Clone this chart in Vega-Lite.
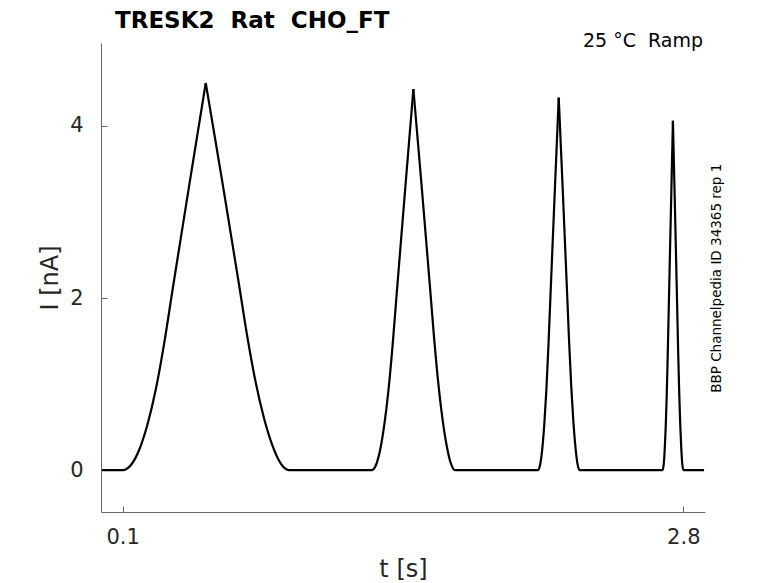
{
  "$schema": "https://vega.github.io/schema/vega-lite/v6.json",
  "width": 604,
  "height": 469,
  "autosize": "none",
  "padding": {"left": 101, "top": 43, "right": 73, "bottom": 71},
  "background": "white",
  "title": {
    "text": "TRESK2\u00a0 Rat\u00a0 CHO_FT",
    "anchor": "start",
    "frame": "group",
    "dx": 14,
    "offset": -19,
    "baseline": "alphabetic",
    "font": "DejaVu Sans",
    "fontSize": 23,
    "fontWeight": "bold",
    "color": "black"
  },
  "config": {
    "view": {"stroke": null},
    "axis": {
      "grid": false,
      "domainColor": "#666666",
      "tickColor": "#666666",
      "tickSize": -6,
      "labelFont": "DejaVu Sans",
      "labelFontSize": 21,
      "labelColor": "#262626",
      "titleFont": "DejaVu Sans",
      "titleFontSize": 24,
      "titleFontWeight": "normal",
      "titleColor": "#262626"
    }
  },
  "datasets": {
    "trace": [
      {"seg": 1, "t": 0.0, "i": 0},
      {"seg": 1, "t": 0.05, "i": 0},
      {"seg": 1, "t": 0.1, "i": 0},
      {"seg": 1, "t": 0.14, "i": 0.059},
      {"seg": 1, "t": 0.18, "i": 0.239},
      {"seg": 1, "t": 0.22, "i": 0.536},
      {"seg": 1, "t": 0.26, "i": 0.945},
      {"seg": 1, "t": 0.30, "i": 1.476},
      {"seg": 1, "t": 0.34, "i": 2.093},
      {"seg": 1, "t": 0.38, "i": 2.7},
      {"seg": 1, "t": 0.42, "i": 3.303},
      {"seg": 1, "t": 0.46, "i": 3.902},
      {"seg": 1, "t": 0.50, "i": 4.5},
      {"seg": 2, "t": 0.50, "i": 4.5},
      {"seg": 2, "t": 0.54, "i": 3.924},
      {"seg": 2, "t": 0.58, "i": 3.348},
      {"seg": 2, "t": 0.62, "i": 2.754},
      {"seg": 2, "t": 0.66, "i": 2.16},
      {"seg": 2, "t": 0.70, "i": 1.553},
      {"seg": 2, "t": 0.74, "i": 1.026},
      {"seg": 2, "t": 0.78, "i": 0.608},
      {"seg": 2, "t": 0.82, "i": 0.293},
      {"seg": 2, "t": 0.86, "i": 0.081},
      {"seg": 2, "t": 0.9, "i": 0},
      {"seg": 2, "t": 1.1, "i": 0},
      {"seg": 2, "t": 1.3, "i": 0},
      {"seg": 2, "t": 1.32, "i": 0.058},
      {"seg": 2, "t": 1.34, "i": 0.235},
      {"seg": 2, "t": 1.36, "i": 0.527},
      {"seg": 2, "t": 1.38, "i": 0.93},
      {"seg": 2, "t": 1.40, "i": 1.453},
      {"seg": 2, "t": 1.42, "i": 2.06},
      {"seg": 2, "t": 1.44, "i": 2.658},
      {"seg": 2, "t": 1.46, "i": 3.252},
      {"seg": 2, "t": 1.48, "i": 3.841},
      {"seg": 2, "t": 1.50, "i": 4.43},
      {"seg": 3, "t": 1.50, "i": 4.43},
      {"seg": 3, "t": 1.52, "i": 3.863},
      {"seg": 3, "t": 1.54, "i": 3.296},
      {"seg": 3, "t": 1.56, "i": 2.711},
      {"seg": 3, "t": 1.58, "i": 2.126},
      {"seg": 3, "t": 1.60, "i": 1.528},
      {"seg": 3, "t": 1.62, "i": 1.01},
      {"seg": 3, "t": 1.64, "i": 0.598},
      {"seg": 3, "t": 1.66, "i": 0.288},
      {"seg": 3, "t": 1.68, "i": 0.08},
      {"seg": 3, "t": 1.70, "i": 0},
      {"seg": 3, "t": 1.9, "i": 0},
      {"seg": 3, "t": 2.1, "i": 0},
      {"seg": 3, "t": 2.11, "i": 0.056},
      {"seg": 3, "t": 2.12, "i": 0.229},
      {"seg": 3, "t": 2.13, "i": 0.515},
      {"seg": 3, "t": 2.14, "i": 0.909},
      {"seg": 3, "t": 2.15, "i": 1.42},
      {"seg": 3, "t": 2.16, "i": 2.013},
      {"seg": 3, "t": 2.17, "i": 2.598},
      {"seg": 3, "t": 2.18, "i": 3.178},
      {"seg": 3, "t": 2.19, "i": 3.754},
      {"seg": 3, "t": 2.20, "i": 4.33},
      {"seg": 4, "t": 2.20, "i": 4.33},
      {"seg": 4, "t": 2.21, "i": 3.776},
      {"seg": 4, "t": 2.22, "i": 3.222},
      {"seg": 4, "t": 2.23, "i": 2.65},
      {"seg": 4, "t": 2.24, "i": 2.078},
      {"seg": 4, "t": 2.25, "i": 1.494},
      {"seg": 4, "t": 2.26, "i": 0.987},
      {"seg": 4, "t": 2.27, "i": 0.585},
      {"seg": 4, "t": 2.28, "i": 0.281},
      {"seg": 4, "t": 2.29, "i": 0.078},
      {"seg": 4, "t": 2.30, "i": 0},
      {"seg": 4, "t": 2.5, "i": 0},
      {"seg": 4, "t": 2.7, "i": 0},
      {"seg": 4, "t": 2.705, "i": 0.053},
      {"seg": 4, "t": 2.71, "i": 0.215},
      {"seg": 4, "t": 2.715, "i": 0.483},
      {"seg": 4, "t": 2.72, "i": 0.853},
      {"seg": 4, "t": 2.725, "i": 1.332},
      {"seg": 4, "t": 2.73, "i": 1.888},
      {"seg": 4, "t": 2.735, "i": 2.436},
      {"seg": 4, "t": 2.74, "i": 2.98},
      {"seg": 4, "t": 2.745, "i": 3.52},
      {"seg": 4, "t": 2.75, "i": 4.06},
      {"seg": 5, "t": 2.75, "i": 4.06},
      {"seg": 5, "t": 2.755, "i": 3.54},
      {"seg": 5, "t": 2.76, "i": 3.021},
      {"seg": 5, "t": 2.765, "i": 2.485},
      {"seg": 5, "t": 2.77, "i": 1.949},
      {"seg": 5, "t": 2.775, "i": 1.401},
      {"seg": 5, "t": 2.78, "i": 0.926},
      {"seg": 5, "t": 2.785, "i": 0.548},
      {"seg": 5, "t": 2.79, "i": 0.264},
      {"seg": 5, "t": 2.795, "i": 0.073},
      {"seg": 5, "t": 2.8, "i": 0},
      {"seg": 5, "t": 2.85, "i": 0},
      {"seg": 5, "t": 2.9, "i": 0}
    ],
    "notes": [
      {"label": "25 °C\u00a0 Ramp", "t": 2.895, "i": 4.92, "kind": "cond"},
      {"label": "BBP Channelpedia ID 34365 rep 1", "t": 2.963, "i": 2.23, "kind": "id"}
    ]
  },
  "layer": [
    {
      "data": {"name": "trace"},
      "mark": {"type": "line", "color": "black", "strokeWidth": 2.2, "interpolate": "monotone", "clip": true},
      "encoding": {
        "x": {
          "field": "t",
          "type": "quantitative",
          "title": "t [s]",
          "scale": {"domain": [-0.0045, 2.9045], "nice": false, "zero": false},
          "axis": {"values": [0.1, 2.8], "format": ".1f", "labelPadding": 20, "titlePadding": 10}
        },
        "y": {
          "field": "i",
          "type": "quantitative",
          "title": "I [nA]",
          "scale": {"domain": [-0.488, 4.965], "nice": false, "zero": false},
          "axis": {"values": [0, 2, 4], "format": "d", "labelPadding": 24, "titlePadding": 7}
        },
        "detail": {"field": "seg", "type": "nominal"},
        "order": {"field": "t", "type": "quantitative"}
      }
    },
    {
      "data": {"name": "notes"},
      "transform": [{"filter": "datum.kind == 'cond'"}],
      "mark": {"type": "text", "align": "right", "baseline": "alphabetic", "font": "DejaVu Sans", "fontSize": 19, "color": "black"},
      "encoding": {
        "x": {"field": "t", "type": "quantitative"},
        "y": {"field": "i", "type": "quantitative"},
        "text": {"field": "label", "type": "nominal"}
      }
    },
    {
      "data": {"name": "notes"},
      "transform": [{"filter": "datum.kind == 'id'"}],
      "mark": {"type": "text", "align": "center", "baseline": "middle", "angle": 270, "font": "DejaVu Sans", "fontSize": 13.5, "color": "black"},
      "encoding": {
        "x": {"field": "t", "type": "quantitative"},
        "y": {"field": "i", "type": "quantitative"},
        "text": {"field": "label", "type": "nominal"}
      }
    }
  ]
}
